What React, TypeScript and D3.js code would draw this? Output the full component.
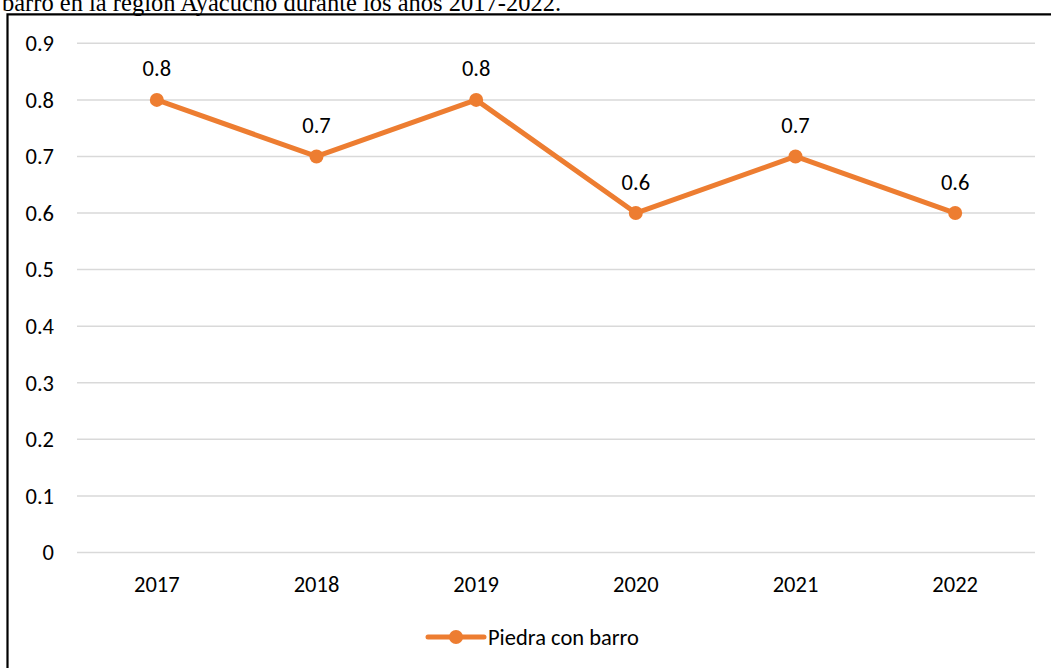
import React from "react";
import * as d3 from "d3";

const years: string[] = ["2017", "2018", "2019", "2020", "2021", "2022"];
const values: number[] = [0.8, 0.7, 0.8, 0.6, 0.7, 0.6];
const yTicks: number[] = [0, 0.1, 0.2, 0.3, 0.4, 0.5, 0.6, 0.7, 0.8, 0.9];
const seriesName = "Piedra con barro";
const titleText = "barro en la región Ayacucho durante los años 2017-2022.";

const W = 1051;
const H = 668;
const ORANGE = "#ED7D31";
const FONT = "Calibri, Carlito, Lato, 'Open Sans', sans-serif";
const FS = 22.5;

export default function App() {
  const x = d3.scaleBand<string>().domain(years).range([77, 1035]);
  const y = d3.scaleLinear().domain([0, 0.9]).range([552.5, 43.3]);
  const cx = (d: string) => (x(d) as number) + x.bandwidth() / 2;
  const line = d3
    .line<number>()
    .x((_, i) => cx(years[i]))
    .y((d) => y(d));
  const fmt = (v: number) => (v === 0 ? "0" : d3.format(".1f")(v));

  return (
    <svg
      width={W}
      height={H}
      style={{ position: "absolute", left: 0, top: 0, background: "#fff" }}
    >
      <rect x={0} y={0} width={W} height={H} fill="#fff" />
      <text
        x={2}
        y={11}
        fontFamily="'Liberation Serif', 'Times New Roman', serif"
        fontSize={24.5}
        fill="#000"
      >
        {titleText}
      </text>
      <path
        d={`M7.5,${H + 2} V14.3 H${W + 2}`}
        fill="none"
        stroke="#000"
        strokeWidth={2.2}
      />
      <g>
        {yTicks.map((t) => (
          <g key={t}>
            <line
              x1={77}
              x2={1035}
              y1={y(t)}
              y2={y(t)}
              stroke="#d9d9d9"
              strokeWidth={1.5}
            />
            <text
              x={54}
              y={y(t)}
              dy="0.35em"
              textAnchor="end"
              fontFamily={FONT}
              fontSize={FS}
              fill="#000"
            >
              {fmt(t)}
            </text>
          </g>
        ))}
      </g>
      <g>
        {years.map((yr) => (
          <text
            key={yr}
            x={cx(yr)}
            y={592}
            textAnchor="middle"
            fontFamily={FONT}
            fontSize={FS}
            fill="#000"
          >
            {yr}
          </text>
        ))}
      </g>
      <path
        d={line(values) || ""}
        fill="none"
        stroke={ORANGE}
        strokeWidth={5}
        strokeLinejoin="round"
        strokeLinecap="round"
      />
      {values.map((v, i) => (
        <g key={i}>
          <circle cx={cx(years[i])} cy={y(v)} r={7} fill={ORANGE} />
          <text
            x={cx(years[i])}
            y={y(v) - 23.5}
            textAnchor="middle"
            fontFamily={FONT}
            fontSize={FS}
            fill="#000"
          >
            {fmt(v)}
          </text>
        </g>
      ))}
      <g>
        <line
          x1={428}
          x2={484}
          y1={637}
          y2={637}
          stroke={ORANGE}
          strokeWidth={5}
          strokeLinecap="round"
        />
        <circle cx={456} cy={637} r={7} fill={ORANGE} />
        <text
          x={488}
          y={637}
          dy="0.35em"
          fontFamily={FONT}
          fontSize={FS}
          fill="#000"
        >
          {seriesName}
        </text>
      </g>
    </svg>
  );
}
